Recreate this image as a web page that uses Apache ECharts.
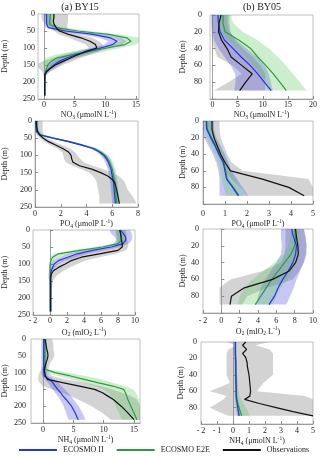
<!DOCTYPE html>
<html>
<head>
<meta charset="utf-8">
<script src="https://cdn.jsdelivr.net/npm/echarts@6/dist/echarts.min.js"></script>
<style>
  html, body { margin: 0; padding: 0; background: #fff; }
  #chart { width: 320px; height: 456px; }
</style>
</head>
<body>
<div id="chart"></div>
<script>
// depth levels (m)
const depthA = [0, 10, 20, 30, 40, 50, 60, 70, 80, 90, 100, 110, 120, 130, 140, 150, 160, 170, 180, 200, 220, 240];
const depthB = [0, 5, 10, 20, 30, 40, 50, 60, 70, 80, 90];
const depthNH4B = [0, 4, 9, 14, 19, 25, 30, 40, 50, 60, 66, 70, 75, 80, 85, 90];

// (a) BY15 - NO3
const no3A_obs   = [1.6, 1.6, 1.5, 1.6, 2.0, 2.5, 4.0, 6.0, 7.5, 8.4, 8.6, 6.8, 5.5, 4.2, 3.0, 1.8, 1.0, 0.4, 0.1, 0.1, 0.1, 0.1];
const no3A_obsLo = [-0.4, -0.4, -0.3, 0.3, 1.0, 1.6, 2.5, 4.0, 5.5, 6.8, 7.3, 5.0, 3.0, 1.2, -0.3, -1.4, -0.8, -0.3, -0.1, 0, 0, 0];
const no3A_obsHi = [3.9, 3.9, 3.9, 3.8, 3.8, 4.0, 5.8, 7.8, 9.0, 9.5, 9.6, 9.0, 7.5, 5.8, 4.5, 3.0, 2.0, 1.0, 0.3, 0.2, 0.2, 0.2];
const no3A_ii    = [0.4, 0.4, 0.4, 0.4, 0.7, 3.5, 8.0, 10.8, 11.9, 11.2, 9.2, 7.2, 5.2, 3.6, 2.4, 1.6, 0.9, 0.3, 0.1, 0.1, 0.1, 0.1];
const no3A_iiLo  = [0, 0, 0, 0, 0.2, 2.0, 6.0, 9.0, 10.5, 9.8, 7.8, 5.6, 3.8, 2.4, 1.4, 0.8, 0.4, 0.1, 0, 0, 0, 0];
const no3A_iiHi  = [1.2, 1.2, 1.2, 1.3, 1.8, 5.0, 9.8, 12.5, 13.5, 12.8, 11.0, 8.8, 6.8, 5.0, 3.6, 2.6, 1.6, 0.8, 0.3, 0.2, 0.2, 0.2];
const no3A_e2e   = [1.0, 1.0, 0.9, 0.9, 2.0, 5.5, 10.5, 13.5, 14.2, 13.2, 10.2, 7.4, 4.5, 2.0, 1.1, 0.6, 0.4, 0.2, 0.1, 0.1, 0.1, 0.1];
const no3A_e2eLo = [0.3, 0.3, 0.3, 0.3, 1.2, 4.0, 8.5, 11.8, 12.8, 11.5, 8.0, 4.8, 1.8, 0.2, -0.2, 0, 0, 0, 0, 0, 0, 0];
const no3A_e2eHi = [1.8, 1.8, 1.7, 1.8, 3.0, 7.5, 12.5, 15.5, 15.8, 15.0, 12.5, 10.0, 7.5, 4.5, 2.6, 1.4, 0.9, 0.5, 0.3, 0.2, 0.2, 0.2];

// (b) BY05 - NO3
const no3B_obs   = [1.7, 1.5, 1.3, 1.2, 1.8, 2.9, 3.7, 5.8, 7.9, 6.6, 5.4];
const no3B_obsLo = [-0.2, -0.2, -0.2, -0.2, -0.1, 0.3, 1.0, 4.0, 5.8, 3.2, 0.3];
const no3B_obsHi = [3.4, 3.4, 3.4, 3.6, 4.5, 6.0, 8.0, 9.5, 10.5, 10.5, 10.5];
const no3B_ii    = [1.1, 1.1, 1.2, 1.5, 2.4, 4.1, 5.7, 7.5, 9.0, 10.3, 11.7];
const no3B_iiLo  = [-0.2, -0.2, -0.2, 0, 0.3, 1.2, 2.4, 3.6, 4.5, 4.6, 4.3];
const no3B_iiHi  = [3.0, 3.0, 3.0, 3.4, 4.8, 6.8, 8.8, 10.4, 11.2, 11.6, 12.0];
const no3B_e2e   = [2.1, 2.1, 2.1, 2.5, 5.3, 7.6, 9.0, 10.6, 12.1, 13.4, 14.7];
const no3B_e2eLo = [1.0, 1.0, 1.0, 1.3, 3.0, 5.2, 6.8, 8.2, 9.5, 10.5, 11.0];
const no3B_e2eHi = [3.8, 3.8, 4.2, 6.0, 9.0, 11.2, 13.0, 14.6, 16.0, 17.4, 18.7];

// (a) BY15 - PO4
const po4A_obs   = [0.13, 0.13, 0.15, 0.2, 0.35, 0.65, 1.05, 1.6, 2.15, 2.6, 2.8, 2.85, 2.95, 3.45, 4.4, 5.1, 5.65, 6.0, 6.2, 6.35, 6.45, 6.55];
const po4A_obsLo = [0, 0, 0.02, 0.05, 0.15, 0.35, 0.7, 1.2, 1.7, 2.1, 2.2, 2.25, 2.4, 2.9, 3.6, 4.2, 4.5, 4.7, 4.8, 4.9, 5.0, 5.0];
const po4A_obsHi = [0.6, 0.6, 0.6, 0.6, 0.7, 1.0, 1.5, 2.1, 2.7, 3.1, 3.3, 3.5, 3.8, 4.5, 5.3, 6.0, 6.5, 6.8, 7.0, 7.2, 7.6, 7.9];
const po4A_ii    = [0.05, 0.05, 0.08, 0.12, 0.35, 1.4, 2.6, 3.6, 4.5, 5.0, 5.35, 5.55, 5.7, 5.8, 5.9, 5.95, 6.0, 6.05, 6.1, 6.15, 6.2, 6.25];
const po4A_iiLo  = [0, 0, 0, 0, 0.2, 1.2, 2.4, 3.4, 4.3, 4.8, 5.1, 5.3, 5.45, 5.55, 5.65, 5.7, 5.75, 5.8, 5.85, 5.9, 5.95, 6.0];
const po4A_iiHi  = [0.2, 0.2, 0.22, 0.28, 0.55, 1.65, 2.85, 3.85, 4.75, 5.25, 5.6, 5.8, 5.95, 6.05, 6.15, 6.2, 6.25, 6.3, 6.35, 6.4, 6.45, 6.5];
const po4A_e2e   = [0.1, 0.1, 0.12, 0.16, 0.4, 1.45, 2.7, 3.7, 4.6, 5.1, 5.45, 5.65, 5.8, 5.9, 6.0, 6.05, 6.1, 6.15, 6.2, 6.25, 6.3, 6.35];
const po4A_e2eLo = [0.02, 0.02, 0.04, 0.06, 0.22, 1.2, 2.4, 3.45, 4.35, 4.85, 5.2, 5.4, 5.55, 5.65, 5.75, 5.8, 5.85, 5.9, 5.95, 6.0, 6.05, 6.1];
const po4A_e2eHi = [0.28, 0.28, 0.3, 0.34, 0.62, 1.75, 3.0, 3.95, 4.85, 5.35, 5.7, 5.9, 6.05, 6.15, 6.25, 6.3, 6.35, 6.4, 6.45, 6.5, 6.55, 6.6];

// (b) BY05 - PO4
const po4B_obs   = [0.41, 0.41, 0.41, 0.5, 0.65, 0.8, 1.0, 1.25, 2.7, 3.9, 4.6];
const po4B_obsLo = [0.2, 0.2, 0.2, 0.3, 0.5, 0.7, 0.85, 1.0, 1.3, 1.7, 2.0];
const po4B_obsHi = [0.75, 0.75, 0.75, 0.8, 0.95, 1.1, 1.3, 1.8, 4.8, 5.0, 5.0];
const po4B_ii    = [0.15, 0.15, 0.17, 0.35, 0.55, 0.72, 0.92, 1.0, 1.07, 1.35, 1.6];
const po4B_iiLo  = [0, 0, 0, 0.05, 0.25, 0.45, 0.6, 0.7, 0.75, 0.75, 0.75];
const po4B_iiHi  = [0.5, 0.5, 0.5, 0.6, 0.8, 1.0, 1.15, 1.3, 1.55, 1.8, 2.05];
const po4B_e2e   = [0.18, 0.18, 0.2, 0.38, 0.58, 0.75, 0.95, 1.03, 1.1, 1.38, 1.63];
const po4B_e2eLo = [0.05, 0.05, 0.05, 0.15, 0.35, 0.55, 0.7, 0.8, 0.85, 0.95, 1.05];
const po4B_e2eHi = [0.4, 0.4, 0.45, 0.55, 0.75, 0.95, 1.1, 1.25, 1.45, 1.7, 1.95];

// (a) BY15 - O2
const o2A_obs   = [8.2, 8.3, 8.35, 8.4, 8.5, 8.5, 8.0, 5.8, 3.7, 2.5, 1.8, 1.0, 0.4, 0.15, 0.1, 0.1, 0.1, 0.1, 0.1, 0.1, 0.1, 0.1];
const o2A_obsLo = [7.8, 7.8, 7.9, 7.9, 8.0, 7.6, 5.5, 3.5, 2.3, 1.5, 0.8, 0.2, -0.1, -0.2, -0.2, -0.1, -0.05, 0, 0, 0, 0, 0];
const o2A_obsHi = [8.9, 9.0, 9.0, 9.1, 9.2, 9.2, 8.9, 7.8, 5.8, 4.2, 3.2, 2.3, 1.6, 1.0, 0.6, 0.35, 0.3, 0.25, 0.2, 0.2, 0.2, 0.2];
const o2A_ii    = [8.3, 8.6, 8.9, 8.9, 8.6, 7.2, 5.0, 3.2, 2.1, 1.0, 0.5, 0.3, 0.15, 0.1, 0.05, 0.05, 0.05, 0.05, 0.05, 0.05, 0.05, 0.05];
const o2A_iiLo  = [7.0, 7.2, 7.6, 7.8, 7.6, 6.2, 3.8, 2.2, 1.2, 0.4, 0.1, 0, 0, 0, 0, 0, 0, 0, 0, 0, 0, 0];
const o2A_iiHi  = [9.4, 9.6, 9.7, 9.6, 9.3, 8.3, 6.4, 4.4, 3.1, 1.8, 1.0, 0.6, 0.3, 0.2, 0.15, 0.1, 0.1, 0.1, 0.1, 0.1, 0.1, 0.1];
const o2A_e2e   = [8.2, 8.3, 8.4, 8.4, 8.0, 6.2, 3.5, 1.0, 0.3, 0.1, 0.02, 0, 0, 0, 0, 0, 0, 0, 0, 0, 0, 0];
const o2A_e2eLo = [7.6, 7.7, 7.8, 7.8, 7.4, 5.2, 2.4, 0.4, 0, 0, -0.1, -0.1, -0.1, 0, 0, 0, 0, 0, 0, 0, 0, 0];
const o2A_e2eHi = [8.8, 8.9, 9.0, 9.0, 8.6, 7.2, 5.2, 2.6, 1.2, 0.6, 0.3, 0.2, 0.1, 0.1, 0.05, 0.05, 0.05, 0.05, 0.05, 0.05, 0.05, 0.05];

// (b) BY05 - O2
const o2B_obs   = [8.1, 8.15, 8.2, 8.35, 8.4, 8.1, 7.4, 5.6, 2.5, 1.1, 0.95];
const o2B_obsLo = [7.0, 7.0, 7.0, 7.0, 6.9, 6.5, 4.5, 1.0, -0.2, -0.2, -0.2];
const o2B_obsHi = [9.0, 9.1, 9.2, 9.3, 9.3, 9.0, 8.5, 7.8, 5.0, 2.8, 2.3];
const o2B_ii    = [7.7, 7.75, 7.9, 8.2, 8.1, 7.8, 7.3, 6.7, 6.2, 5.8, 5.2];
const o2B_iiLo  = [6.5, 6.5, 6.5, 6.6, 6.5, 6.0, 5.4, 4.8, 4.3, 4.0, 3.8];
const o2B_iiHi  = [9.0, 9.1, 9.2, 9.3, 9.2, 9.0, 8.6, 8.2, 7.9, 7.5, 7.1];
const o2B_e2e   = [8.0, 8.05, 8.1, 8.0, 7.6, 6.9, 6.2, 5.5, 4.9, 4.3, 3.7];
const o2B_e2eLo = [7.6, 7.6, 7.5, 7.3, 6.8, 5.8, 4.6, 3.4, 2.5, 2.0, 1.8];
const o2B_e2eHi = [8.5, 8.5, 8.6, 8.5, 8.4, 8.2, 7.8, 7.2, 6.5, 6.0, 5.6];

// (a) BY15 - NH4
const nh4A_obs   = [0.3, 0.4, 0.5, 0.6, 0.75, 0.8, 0.7, 0.5, 0.35, 0.2, 0.25, 0.4, 0.7, 3.2, 6.0, 8.5, 9.8, 10.7, 11.6, 12.9, 14.0, 15.0];
const nh4A_obsLo = [0, 0, 0, 0, 0, 0, 0, 0, 0, -0.3, -0.6, -0.8, -0.8, -0.6, 0, 1.5, 3.0, 4.5, 5.8, 8.0, 9.8, 11.2];
const nh4A_obsHi = [1.5, 1.6, 1.7, 1.7, 1.8, 1.9, 1.6, 1.2, 1.0, 0.9, 1.0, 1.5, 3.5, 7.0, 9.5, 11.5, 13.0, 14.5, 15.5, 16, 16, 16];
const nh4A_ii    = [0.1, 0.1, 0.1, 0.1, 0.1, 0.1, 0.1, 0.1, 0.1, 0.1, 0.1, 0.2, 1.0, 1.6, 2.0, 2.4, 2.9, 3.3, 3.8, 4.7, 5.3, 5.8];
const nh4A_iiLo  = [-0.3, -0.3, -0.3, -0.3, -0.3, -0.3, -0.3, -0.3, -0.3, -0.3, -0.3, -0.2, 0.3, 0.8, 1.2, 1.6, 2.0, 2.4, 2.8, 3.4, 3.8, 4.2];
const nh4A_iiHi  = [0.6, 0.6, 0.6, 0.6, 0.6, 0.6, 0.6, 0.6, 0.6, 0.6, 0.6, 0.8, 1.8, 2.5, 3.0, 3.6, 4.1, 4.6, 5.0, 5.9, 6.5, 7.0];
const nh4A_e2e   = [0.3, 0.3, 0.3, 0.3, 0.3, 0.3, 0.3, 0.3, 0.3, 0.3, 2.0, 4.5, 6.8, 9.0, 11.5, 13.3, 13.6, 13.8, 14.0, 14.5, 15.0, 15.5];
const nh4A_e2eLo = [0, 0, 0, 0, 0, 0, 0, 0, 0, 0, 0.5, 2.5, 4.5, 6.5, 8.5, 10.0, 10.8, 11.2, 11.5, 12.0, 12.5, 13.0];
const nh4A_e2eHi = [0.6, 0.6, 0.6, 0.6, 0.6, 0.6, 0.6, 0.6, 0.6, 0.6, 4.0, 7.0, 9.5, 11.5, 13.5, 14.8, 15.3, 15.6, 15.8, 16, 16, 16];

// (b) BY05 - NH4
const nh4B_obs   = [0.8, 0.6, 0.85, 0.6, 0.8, 0.88, 0.9, 1.0, 1.05, 1.1, 1.05, 0.72, 1.65, 2.7, 3.75, 5.0];
const nh4B_obsLo = [-0.4, 0.2, -0.3, -0.4, -0.4, -0.4, -0.4, -0.4, -0.2, -1.45, -0.4, -0.6, -1.0, -1.45, -0.9, -0.3];
const nh4B_obsHi = [2.3, 1.4, 2.3, 2.5, 2.5, 2.5, 2.5, 2.5, 1.9, 1.5, 4.5, 5.0, 5.0, 5.0, 5.0, 5.0];
const nh4B_ii    = [0.15, 0.15, 0.15, 0.15, 0.16, 0.17, 0.17, 0.18, 0.19, 0.2, 0.2, 0.22, 0.26, 0.3, 0.34, 0.38];
const nh4B_iiLo  = [0.08, 0.08, 0.08, 0.08, 0.09, 0.1, 0.1, 0.11, 0.12, 0.13, 0.13, 0.14, 0.17, 0.2, 0.23, 0.26];
const nh4B_iiHi  = [0.22, 0.22, 0.22, 0.22, 0.23, 0.24, 0.24, 0.25, 0.26, 0.27, 0.28, 0.3, 0.36, 0.42, 0.46, 0.5];
const nh4B_e2e   = [0.15, 0.15, 0.15, 0.15, 0.16, 0.17, 0.17, 0.18, 0.19, 0.2, 0.22, 0.25, 0.3, 0.38, 0.46, 0.55];
const nh4B_e2eLo = [0.1, 0.1, 0.1, 0.1, 0.1, 0.1, 0.1, 0.1, 0.1, 0.1, 0.1, 0.12, 0.15, 0.2, 0.25, 0.3];
const nh4B_e2eHi = [0.2, 0.2, 0.2, 0.2, 0.22, 0.24, 0.24, 0.25, 0.3, 0.35, 0.4, 0.5, 0.65, 0.8, 0.95, 1.05];

// tick labels
const ticksNO3A = [0, 5, 10, 15];
const ticksNO3B = [0, 5, 10, 15, 20];
const ticksNH4A = [0, 5, 10, 15];
const seriesNames = ['ECOSMO II', 'ECOSMO E2E', 'Observations'];

const FONT = '"Liberation Serif", "DejaVu Serif", serif';
const COLORS = { ii: '#2336e0', e2e: '#2f9a45', obs: '#111111' };
const BANDS = { ii: 'rgba(70, 70, 225, 0.30)', e2e: 'rgba(90, 200, 90, 0.30)', obs: 'rgba(140, 140, 140, 0.38)' };

const panels = [
    { depth: depthA, obs: [no3A_obs, no3A_obsLo, no3A_obsHi], ii: [no3A_ii, no3A_iiLo, no3A_iiHi], e2e: [no3A_e2e, no3A_e2eLo, no3A_e2eHi],
      x: [-1, 15.5], ticks: ticksNO3A, y: 250, name: 'NO{s|3} (μmolN L{p|-1})',
      box: [36, 14, 103, 85], yGap: 29, yMargin: 3, xMargin: 2, xGap: 8 },
    { depth: depthB, obs: [no3B_obs, no3B_obsLo, no3B_obsHi], ii: [no3B_ii, no3B_iiLo, no3B_iiHi], e2e: [no3B_e2e, no3B_e2eLo, no3B_e2eHi],
      x: [-0.5, 20], ticks: ticksNO3B, y: 100, name: 'NO{s|3} (μmolN L{p|-1})',
      box: [210, 15, 104, 84], yGap: 23, yMargin: 8, xMargin: 2, xGap: 9 },
    { depth: depthA, obs: [po4A_obs, po4A_obsLo, po4A_obsHi], ii: [po4A_ii, po4A_iiLo, po4A_iiHi], e2e: [po4A_e2e, po4A_e2eLo, po4A_e2eHi],
      x: [0, 8], interval: 2, y: 250, name: 'PO{s|4} (μmolP L{p|-1})',
      box: [32, 121, 106, 86], yGap: 26, yMargin: 3, xMargin: 3, xGap: 10 },
    { depth: depthB, obs: [po4B_obs, po4B_obsLo, po4B_obsHi], ii: [po4B_ii, po4B_iiLo, po4B_iiHi], e2e: [po4B_e2e, po4B_e2eLo, po4B_e2eHi],
      x: [0, 5], interval: 1, y: 100, name: 'PO{s|4} (μmolP L{p|-1})',
      box: [203, 121, 110, 83], yGap: 16, yMargin: 4, xMargin: 6, xGap: 13 },
    { depth: depthA, obs: [o2A_obs, o2A_obsLo, o2A_obsHi], ii: [o2A_ii, o2A_iiLo, o2A_iiHi], e2e: [o2A_e2e, o2A_e2eLo, o2A_e2eHi],
      x: [-2, 10], interval: 2, y: 250, name: 'O{s|2} (mlO{s|2} L{p|-1})',
      box: [30, 230, 105, 85], yGap: 24, yMargin: 3, xMargin: 2, xGap: 12 },
    { depth: depthB, obs: [o2B_obs, o2B_obsLo, o2B_obsHi], ii: [o2B_ii, o2B_iiLo, o2B_iiHi], e2e: [o2B_e2e, o2B_e2eLo, o2B_e2eHi],
      x: [-2, 10], interval: 2, y: 100, name: 'O{s|2} (mlO{s|2} L{p|-1})',
      box: [203, 229, 110, 84], yGap: 16, yMargin: 4, xMargin: 4, xGap: 13 },
    { depth: depthA, obs: [nh4A_obs, nh4A_obsLo, nh4A_obsHi], ii: [nh4A_ii, nh4A_iiLo, nh4A_iiHi], e2e: [nh4A_e2e, nh4A_e2eLo, nh4A_e2eHi],
      x: [-2, 16], ticks: ticksNH4A, y: 250, name: 'NH{s|4} (μmolN L{p|-1})',
      box: [29, 339, 111, 84], yGap: 22, yMargin: 5, xMargin: 3, xGap: 9 },
    { depth: depthNH4B, obs: [nh4B_obs, nh4B_obsLo, nh4B_obsHi], ii: [nh4B_ii, nh4B_iiLo, nh4B_iiHi], e2e: [nh4B_e2e, nh4B_e2eLo, nh4B_e2eHi],
      x: [-2, 5], interval: 1, y: 100, name: 'NH{s|4} (μmolN L{p|-1})',
      box: [201, 342, 112, 82], yGap: 14, yMargin: 4, xMargin: 3, xGap: 8 }
];

function ChartLoad() {
    var dom = document.getElementById('chart');
    var chart = echarts.init(dom, null, { renderer: 'canvas' });

    var grids = [], xAxes = [], yAxes = [], series = [];
    var axisColor = '#8a8a8a';
    var labelStyle = { fontFamily: FONT, fontSize: 8, color: '#222' };

    function negFmt(v) {
        return v < 0 ? '- ' + Math.abs(v) : String(v);
    }

    function band(i, depth, lo, hi, color) {
        return {
            type: 'custom', xAxisIndex: i, yAxisIndex: i, silent: true, z: 1, clip: true,
            data: [[lo[0], depth[0]]],
            encode: { x: 0, y: 1 },
            renderItem: function (params, api) {
                var pts = [];
                for (var k = 0; k < depth.length; k++) pts.push(api.coord([lo[k], depth[k]]));
                for (var k = depth.length - 1; k >= 0; k--) pts.push(api.coord([hi[k], depth[k]]));
                return { type: 'polygon', shape: { points: pts }, style: { fill: color } };
            }
        };
    }

    function line(i, depth, vals, name, color) {
        return {
            type: 'line', name: name, xAxisIndex: i, yAxisIndex: i, z: 3,
            showSymbol: false, symbol: 'none', silent: true,
            lineStyle: { width: 1.2, color: color }, itemStyle: { color: color },
            data: vals.map(function (v, k) { return [v, depth[k]]; })
        };
    }

    panels.forEach(function (p, i) {
        grids.push({
            left: p.box[0], top: p.box[1], width: p.box[2], height: p.box[3],
            show: true, borderColor: '#b0b0b0', borderWidth: 0.8, backgroundColor: 'transparent'
        });

        var xa = {
            type: 'value', gridIndex: i, min: p.x[0], max: p.x[1],
            axisLine: { show: true, onZero: false, lineStyle: { color: axisColor, width: 0.8 } },
            axisTick: { show: true, inside: true, length: 3, lineStyle: { color: axisColor } },
            axisLabel: Object.assign({ margin: p.xMargin, formatter: negFmt, showMinLabel: true, showMaxLabel: true }, labelStyle),
            splitLine: { show: false },
            name: p.name, nameLocation: 'middle', nameGap: p.xGap,
            nameTextStyle: {
                fontFamily: FONT, fontSize: 8, color: '#222', lineHeight: 11,
                rich: {
                    s: { fontFamily: FONT, fontSize: 5.5, lineHeight: 6, verticalAlign: 'bottom', color: '#222' },
                    p: { fontFamily: FONT, fontSize: 5.5, lineHeight: 6, verticalAlign: 'top', color: '#222' }
                }
            }
        };
        if (p.ticks) {
            xa.axisLabel.customValues = p.ticks;
            xa.axisTick.customValues = p.ticks;
        } else {
            xa.interval = p.interval;
        }
        xAxes.push(xa);

        yAxes.push({
            type: 'value', gridIndex: i, inverse: true, min: 0, max: p.y, interval: p.y === 250 ? 50 : 20,
            axisLine: { show: true, lineStyle: { color: axisColor, width: 0.8 } },
            axisTick: { show: true, inside: true, length: 3, lineStyle: { color: axisColor } },
            axisLabel: Object.assign({
                margin: p.yMargin,
                formatter: function (v) { return (p.y === 100 && v === 100) ? '' : String(v); }
            }, labelStyle),
            splitLine: { show: false },
            name: 'Depth (m)', nameLocation: 'middle', nameGap: p.yGap, nameRotate: 90,
            nameTextStyle: { fontFamily: FONT, fontSize: 8, color: '#222' }
        });

        series.push(band(i, p.depth, p.obs[1], p.obs[2], BANDS.obs));
        series.push(band(i, p.depth, p.ii[1], p.ii[2], BANDS.ii));
        series.push(band(i, p.depth, p.e2e[1], p.e2e[2], BANDS.e2e));
        series.push(line(i, p.depth, p.e2e[0], seriesNames[1], COLORS.e2e));
        series.push(line(i, p.depth, p.ii[0], seriesNames[0], COLORS.ii));
        series.push(line(i, p.depth, p.obs[0], seriesNames[2], COLORS.obs));
    });

    var option = {
        animation: false,
        backgroundColor: '#ffffff',
        grid: grids,
        xAxis: xAxes,
        yAxis: yAxes,
        series: series,
        legend: {
            left: 19, top: 446, right: 0, padding: 0,
            itemWidth: 38, itemHeight: 2, itemGap: 13, icon: 'rect',
            textStyle: { fontFamily: FONT, fontSize: 8, color: '#222', padding: [0, 0, 0, 1] },
            data: seriesNames.slice()
        },
        graphic: [
            { type: 'text', x: 80, y: 7, style: { text: '(a) BY15', fontFamily: FONT, fontSize: 10, fill: '#222', textAlign: 'center', textVerticalAlign: 'middle' } },
            { type: 'text', x: 262, y: 7, style: { text: '(b) BY05', fontFamily: FONT, fontSize: 10, fill: '#222', textAlign: 'center', textVerticalAlign: 'middle' } }
        ]
    };

    chart.setOption(option, true);
}

ChartLoad();
</script>
</body>
</html>
